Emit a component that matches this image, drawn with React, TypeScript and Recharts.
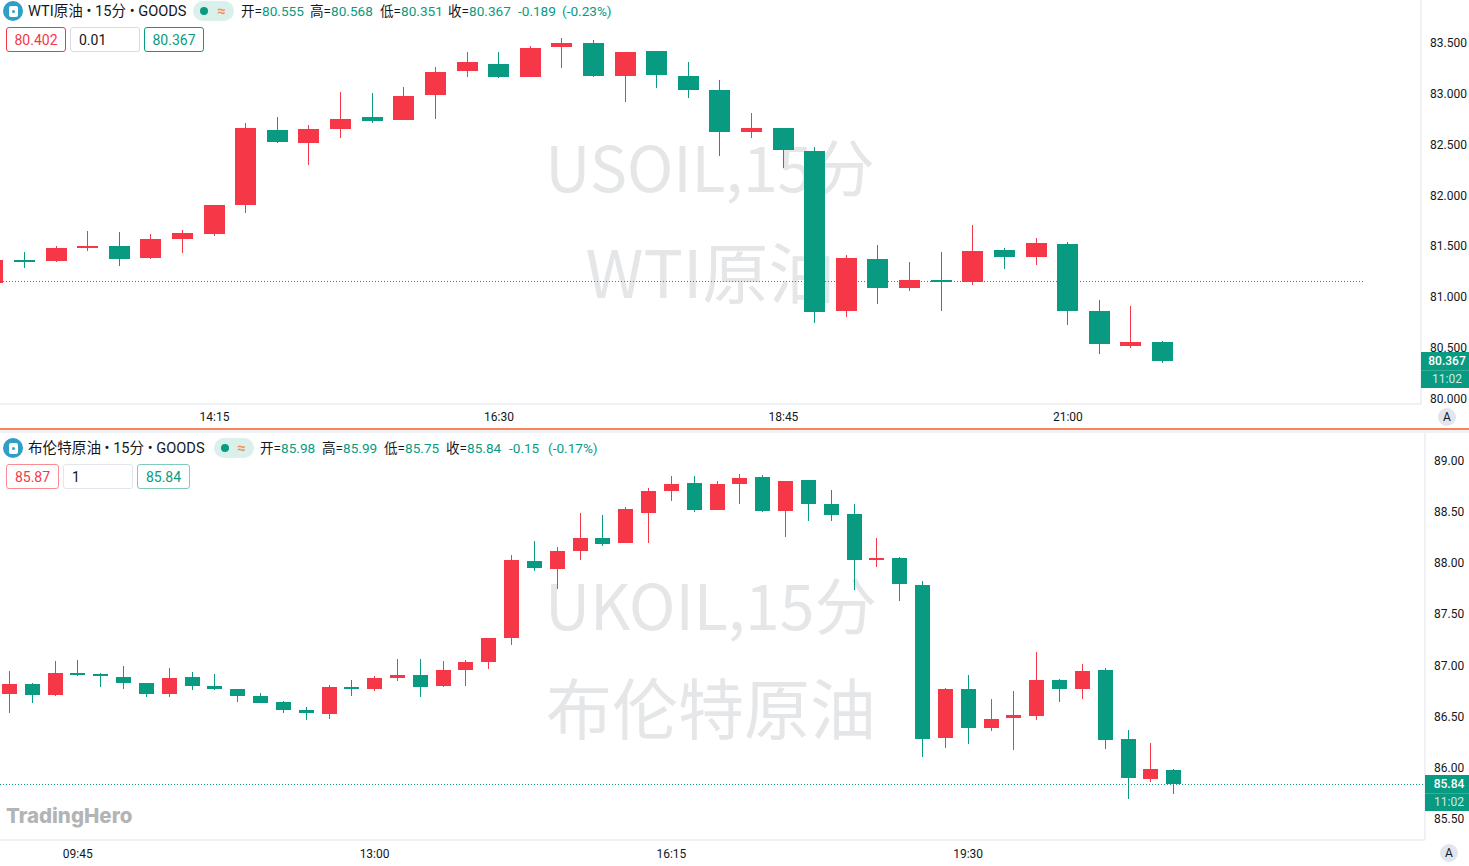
import React from "react";
import { ComposedChart, Bar, XAxis, YAxis, ReferenceLine } from "recharts";

const RED = "#f53748";
const TEAL = "#089b81";
const FONT = "Roboto, 'Noto Sans CJK SC', sans-serif";

// WTI 15-minute candles
const usOpen = [81.137,81.360,81.353,81.481,81.501,81.383,81.570,81.619,81.905,82.643,82.515,82.653,82.771,82.742,82.988,83.224,83.293,83.165,83.460,83.500,83.175,83.421,83.175,83.037,82.623,82.663,82.436,80.861,81.373,81.088,81.166,81.147,81.462,81.393,81.521,80.861,80.517,80.555];
const usHigh = [81.400,81.442,81.501,81.649,81.639,81.619,81.659,81.905,82.712,82.771,82.692,83.017,83.007,83.066,83.263,83.411,83.411,83.470,83.549,83.529,83.411,83.421,83.313,83.135,82.811,82.663,82.476,81.413,81.511,81.344,81.442,81.708,81.481,81.580,81.541,80.969,80.910,80.568];
const usLow = [81.100,81.285,81.344,81.452,81.304,81.373,81.432,81.600,81.826,82.515,82.299,82.564,82.712,82.742,82.751,83.165,83.155,83.165,83.254,83.165,82.919,83.057,82.958,82.387,82.564,82.269,80.743,80.802,80.930,81.058,80.861,81.117,81.275,81.314,80.723,80.438,80.497,80.351];
const usClose = [81.363,81.353,81.481,81.501,81.373,81.570,81.629,81.905,82.663,82.525,82.653,82.751,82.732,82.978,83.214,83.313,83.165,83.450,83.500,83.175,83.411,83.185,83.037,82.623,82.663,82.446,80.851,81.383,81.088,81.166,81.147,81.452,81.393,81.531,80.861,80.536,80.556,80.367];
const usPriceTicks = [80, 80.5, 81, 81.5, 82, 82.5, 83, 83.5];
const usTimeTicks = [7, 16, 25, 34];
const usTimeLabels = ["14:15", "16:30", "18:45", "21:00"];
const usPrevClose = 81.152;

// Brent 15-minute candles
const ukOpen = [86.72,86.82,86.71,86.93,86.92,86.89,86.83,86.72,86.89,86.80,86.77,86.70,86.64,86.56,86.53,86.79,86.77,86.88,86.91,86.80,86.96,87.03,87.27,88.02,87.94,88.12,88.24,88.20,88.49,88.70,88.78,88.52,88.77,88.84,88.51,88.81,88.58,88.48,88.03,88.05,87.79,86.29,86.77,86.39,86.49,86.51,86.86,86.77,86.96,86.28,85.89,85.98];
const ukHigh = [86.95,86.83,87.04,87.05,86.93,86.99,86.83,86.97,86.94,86.92,86.77,86.73,86.65,86.59,86.81,86.86,86.90,87.06,87.06,87.04,87.05,87.27,88.08,88.22,88.16,88.49,88.47,88.55,88.73,88.85,88.85,88.80,88.87,88.86,88.80,88.81,88.71,88.58,88.24,88.06,87.82,86.78,86.91,86.67,86.75,87.13,86.87,87.01,86.97,86.37,86.24,85.99];
const ukLow = [86.54,86.63,86.70,86.89,86.79,86.77,86.69,86.69,86.76,86.76,86.64,86.63,86.53,86.46,86.48,86.70,86.75,86.85,86.69,86.79,86.80,86.97,87.20,87.93,87.75,88.03,88.17,88.20,88.19,88.61,88.50,88.52,88.58,88.50,88.25,88.41,88.41,87.74,87.96,87.63,86.10,86.19,86.24,86.36,86.17,86.47,86.65,86.67,86.18,85.70,85.86,85.75];
const ukClose = [86.82,86.71,86.93,86.92,86.91,86.83,86.72,86.88,86.80,86.77,86.70,86.63,86.56,86.54,86.79,86.77,86.88,86.91,86.79,86.96,87.03,87.27,88.03,87.95,88.12,88.24,88.19,88.53,88.70,88.77,88.52,88.77,88.83,88.51,88.80,88.58,88.47,88.03,88.05,87.80,86.28,86.77,86.39,86.48,86.52,86.86,86.77,86.95,86.27,85.90,85.99,85.84];
const ukPriceTicks = [85.5, 86, 86.5, 87, 87.5, 88, 88.5, 89];
const ukTimeTicks = [3, 16, 29, 42];
const ukTimeLabels = ["09:45", "13:00", "16:15", "19:30"];
const ukLast = 85.84;

const toRows = (o: number[], h: number[], l: number[], c: number[]) =>
  o.map((open, i) => ({ i, open, high: h[i], low: l[i], close: c[i], range: [l[i], h[i]] }));

const usRows = toRows(usOpen, usHigh, usLow, usClose);
const ukRows = toRows(ukOpen, ukHigh, ukLow, ukClose);

const Candle = (p: any) => {
  const { x, y, width, height, payload } = p;
  const { open, close, high, low } = payload;
  const span = high - low || 1;
  const yOf = (v: number) => y + ((high - v) / span) * height;
  const up = close >= open;
  const color = up ? RED : TEAL;
  const top = Math.round(yOf(Math.max(open, close)));
  const bot = Math.round(yOf(Math.min(open, close)));
  const cx = Math.floor(x + width / 2);
  return (
    <g shapeRendering="crispEdges">
      <rect x={cx} y={Math.round(y)} width={1} height={Math.max(1, Math.round(height))} fill={color} />
      <rect x={Math.round(x)} y={top} width={Math.round(width)} height={Math.max(2, bot - top)} fill={color} />
    </g>
  );
};

const abs = (x: number, y: number, extra: React.CSSProperties = {}): React.CSSProperties => ({
  position: "absolute", left: x, top: y, whiteSpace: "nowrap", ...extra,
});

const Txt = ({ x, cy, color = "#131722", size = 13.6, children }: any) => (
  <div style={abs(x, cy - 10, { fontSize: size, lineHeight: "20px", color })}>{children}</div>
);

const Box = ({ x, y, w, color, border, children, left }: any) => (
  <div
    style={abs(x, y, {
      width: w, height: 25, boxSizing: "border-box", border: `1px solid ${border}`, borderRadius: 3,
      fontSize: 14, lineHeight: "25px", color, textAlign: left ? "left" : "center",
      paddingLeft: left ? 8 : 0, background: "#fff",
    })}
  >
    {children}
  </div>
);

const Icon = ({ cy }: { cy: number }) => (
  <div style={abs(3, cy - 10, { width: 20, height: 20, borderRadius: 10, background: "#2f9fc8" })}>
    <div style={abs(5.5, 4.5, { width: 9, height: 11, borderRadius: 2, background: "#fff" })}>
      <div style={abs(3, 4, { width: 3, height: 3, borderRadius: 2, background: "#2f9fc8" })} />
    </div>
  </div>
);

const Pill = ({ x, cy, w }: any) => (
  <div style={abs(x, cy - 10, { width: w, height: 20, borderRadius: 10, background: "#daf0eb" })}>
    <div style={abs(7, 6, { width: 8, height: 8, borderRadius: 4, background: TEAL })} />
    <div style={abs(w - 17, 0, { fontSize: 15, lineHeight: "20px", color: "#f7915a", fontWeight: 700 })}>≈</div>
  </div>
);

const AutoBtn = ({ cx, cy }: any) => (
  <div
    style={abs(cx - 9, cy - 9, {
      width: 18, height: 18, borderRadius: 9, background: "#e3e5ee", fontSize: 12,
      lineHeight: "18px", textAlign: "center", color: "#131722",
    })}
  >
    A
  </div>
);

const PriceTag = ({ x, y, w, price }: any) => (
  <div style={abs(x, y, { width: w, height: 36, background: TEAL, textAlign: "center", color: "#fff", fontSize: 12, paddingLeft: 4, boxSizing: "border-box" })}>
    <div style={{ height: 18, lineHeight: "18px", fontWeight: 500 }}>{price}</div>
    <div style={{ height: 18, lineHeight: "18px", color: "#cdeae4" }}>11:02</div>
    <div style={abs(0, 18, { width: w, height: 1, background: "#35ae98" })} />
  </div>
);

const Watermark = ({ cy1, cy2, cx, l1, l2 }: any) => (
  <>
    <div style={abs(cx - 300, cy1 - 50, { width: 600, textAlign: "center", fontSize: 62.5, lineHeight: "100px", color: "#e5e6e8", fontFamily: "'Noto Sans CJK SC', sans-serif" })}>{l1}</div>
    <div style={abs(cx - 300, cy2 - 50, { width: 600, textAlign: "center", fontSize: 66, lineHeight: "100px", color: "#e5e6e8", fontFamily: "'Noto Sans CJK SC', sans-serif" })}>{l2}</div>
  </>
);

const tickStyle = { fill: "#131722", fontSize: 12, fontFamily: FONT };

const PriceChart = ({ rows, w, h, xDomain, yDomain, priceTicks, timeTicks, timeLabels, digits, yWidth, barSize, refValue, refEnd, axisH, timeMargin }: any) => (
  <ComposedChart width={w} height={h} data={rows} margin={{ top: 0, right: 0, bottom: 0, left: 0 }}>
    <XAxis
      dataKey="i" type="number" domain={xDomain} allowDataOverflow ticks={timeTicks} interval={0}
      tickLine={false} axisLine={{ stroke: "#e0e3eb" }} height={axisH} tick={tickStyle} tickMargin={timeMargin}
      tickFormatter={(v: number) => timeLabels[timeTicks.indexOf(v)] ?? ""}
    />
    <YAxis
      orientation="right" type="number" domain={yDomain} allowDataOverflow ticks={priceTicks} interval={0}
      width={yWidth} tickLine={false} axisLine={{ stroke: "#e0e3eb" }} tick={tickStyle} tickMargin={3}
      tickFormatter={(v: number) => v.toFixed(digits)}
    />
    <ReferenceLine
      segment={[{ x: xDomain[0], y: refValue }, { x: refEnd, y: refValue }]}
      stroke={TEAL} strokeDasharray="1 2" strokeWidth={1} ifOverflow="hidden" shapeRendering="crispEdges"
    />
    <Bar dataKey="range" barSize={barSize} shape={Candle} isAnimationActive={false} />
  </ComposedChart>
);

export default function App() {
  return (
    <div style={{ position: "absolute", left: 0, top: 0, width: 1469, height: 866, overflow: "hidden", background: "#fff", fontFamily: FONT }}>
      <Watermark cx={710} cy1={165} cy2={269} l1="USOIL,15分" l2="WTI原油" />
      <Watermark cx={711} cy1={603} cy2={705} l1="UKOIL,15分" l2="布伦特原油" />

      <div style={abs(0, 0)}>
        <PriceChart rows={usRows} w={1469} h={428} xDomain={[0.215, 45.17]} yDomain={[79.946, 83.923]}
          priceTicks={usPriceTicks} timeTicks={usTimeTicks} timeLabels={usTimeLabels} digits={3} yWidth={48}
          barSize={21} refValue={usPrevClose} refEnd={43.41} axisH={24} timeMargin={2} />
      </div>
      <div style={abs(0, 428, { width: 1469, height: 2, background: "#f7845a" })} />
      <div style={abs(0, 430, { width: 1469, height: 3, background: "#f0f2f6" })} />
      <div style={abs(0, 433)}>
        <PriceChart rows={ukRows} w={1469} h={433} xDomain={[-0.407, 62.01]} yDomain={[85.295, 89.27]}
          priceTicks={ukPriceTicks} timeTicks={ukTimeTicks} timeLabels={ukTimeLabels} digits={2} yWidth={44}
          barSize={15} refValue={ukLast} refEnd={62.01} axisH={26} timeMargin={3} />
      </div>

      <Icon cy={11} />
      <Txt x={28} cy={11} size={14.6}>WTI原油 • 15分 • GOODS</Txt>
      <Pill x={193} cy={11} w={41} />
      <Txt x={241} cy={11}>开=<span style={{ color: TEAL }}>80.555</span></Txt>
      <Txt x={310} cy={11}>高=<span style={{ color: TEAL }}>80.568</span></Txt>
      <Txt x={380} cy={11}>低=<span style={{ color: TEAL }}>80.351</span></Txt>
      <Txt x={448} cy={11}>收=<span style={{ color: TEAL }}>80.367</span></Txt>
      <Txt x={518} cy={11} color={TEAL}>-0.189</Txt>
      <Txt x={562} cy={11} color={TEAL}>(-0.23%)</Txt>
      <Box x={6} y={27} w={60} color={RED} border={RED}>80.402</Box>
      <Box x={70} y={27} w={70} color="#131722" border="#d8dbe6" left>0.01</Box>
      <Box x={144} y={27} w={60} color={TEAL} border={TEAL}>80.367</Box>

      <Icon cy={448} />
      <Txt x={28} cy={448} size={14.6}>布伦特原油 • 15分 • GOODS</Txt>
      <Pill x={214} cy={448} w={40} />
      <Txt x={260} cy={448}>开=<span style={{ color: TEAL }}>85.98</span></Txt>
      <Txt x={322} cy={448}>高=<span style={{ color: TEAL }}>85.99</span></Txt>
      <Txt x={384} cy={448}>低=<span style={{ color: TEAL }}>85.75</span></Txt>
      <Txt x={446} cy={448}>收=<span style={{ color: TEAL }}>85.84</span></Txt>
      <Txt x={509} cy={448} color={TEAL}>-0.15</Txt>
      <Txt x={548} cy={448} color={TEAL}>(-0.17%)</Txt>
      <Box x={6} y={464} w={53} color={RED} border="#f98b95">85.87</Box>
      <Box x={63} y={464} w={70} color="#131722" border="#e3e4ec" left>1</Box>
      <Box x={137} y={464} w={53} color={TEAL} border="#7fcbbc">85.84</Box>

      <PriceTag x={1421} y={352} w={48} price="80.367" />
      <PriceTag x={1425} y={775} w={44} price="85.84" />
      <AutoBtn cx={1447} cy={417} />
      <AutoBtn cx={1449} cy={853} />

      <div style={abs(6, 803, { fontSize: 20.5, lineHeight: "26px", fontWeight: 800, color: "#b2b4b6", fontFamily: "Inter, sans-serif" })}>TradingHero</div>
    </div>
  );
}
